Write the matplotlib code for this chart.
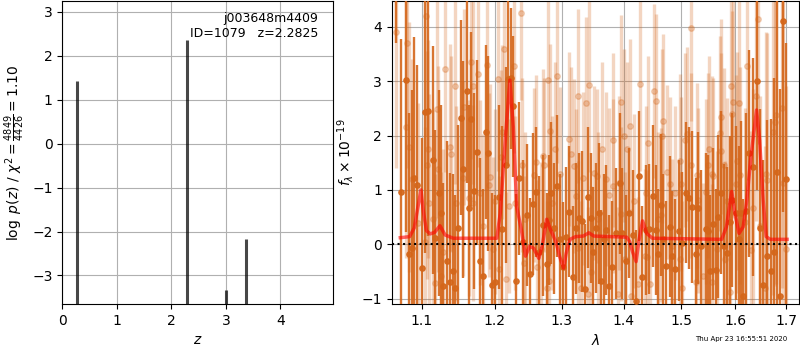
import numpy as np
import matplotlib
matplotlib.use('Agg')
import matplotlib.pyplot as plt
from matplotlib.ticker import ScalarFormatter, NullLocator, NullFormatter

# p(z) peaks
peak_z = [0.265, 2.28, 3.0, 3.375]
peak_logp = [1.42, 2.36, -3.33, -2.16]

# spectrum, darker set
dark_lam = [1.067, 1.0727, 1.0788, 1.0831, 1.087, 1.090, 1.093, 1.1004, 1.104, 1.108,
            1.115, 1.117, 1.123, 1.126, 1.128, 1.133, 1.137, 1.142, 1.145, 1.149,
            1.152, 1.156, 1.161, 1.164, 1.167, 1.171, 1.175, 1.179, 1.184, 1.188,
            1.190, 1.196, 1.201, 1.206, 1.211, 1.216, 1.219, 1.223, 1.227, 1.231,
            1.235, 1.241, 1.247, 1.252, 1.256, 1.260, 1.266, 1.271, 1.277, 1.280,
            1.284, 1.288, 1.293, 1.297, 1.302, 1.307, 1.312, 1.318, 1.322, 1.328,
            1.332, 1.336, 1.341, 1.346, 1.349, 1.354, 1.359, 1.363, 1.367, 1.371,
            1.376, 1.381, 1.387, 1.394, 1.398, 1.404, 1.409, 1.415, 1.421, 1.426,
            1.431, 1.438, 1.443, 1.450, 1.455, 1.459, 1.464, 1.468, 1.473, 1.479,
            1.484, 1.489, 1.496, 1.502, 1.509, 1.514, 1.520, 1.527, 1.530, 1.536,
            1.544, 1.548, 1.552, 1.557, 1.563, 1.568, 1.573, 1.579, 1.585, 1.589,
            1.594, 1.601, 1.606, 1.610, 1.615, 1.621, 1.627, 1.635, 1.642, 1.647,
            1.654, 1.662, 1.669, 1.676, 1.681, 1.688, 1.693, 1.700]
dark_flux = [5.6, 0.97, 3.02, -0.18, -0.07, 1.21, 1.09, -0.44, 2.43, 2.45,
             1.55, 0.11, 0.94, 0.57, -0.77, -0.30, -0.69, -0.50, -0.80, 0.29,
             2.33, 1.38, 2.82, 0.66, 2.31, 0.98, 1.69, -0.31, -0.58, 2.06,
             1.67, -0.75, -0.70, 0.87, 0.28, 1.46, 3.04, 3.05, 2.54, -0.67,
             1.21, 0.05, 0.54, -0.55, 0.74, 0.96, -0.14, 0.35, -0.36, 0.45,
             0.94, 0.29, 1.07, 0.10, -0.42, 0.13, 0.60, -0.60, 0.29, 0.48,
             0.42, -0.82, 0.86, 0.48, -0.14, 0.30, 0.57, -0.67, 0.10, 0.26,
             -0.77, -0.41, 0.20, 1.12, 0.20, -0.30, 0.57, 0.17, -1.04, 1.26,
             -0.60, 0.26, 0.28, 0.89, 0.26, -0.18, 0.72, 0.10, -0.40, 0.32,
             -0.22, -0.46, 0.25, 0.02, 0.95, 0.85, 0.68, -0.18, 0.66, -0.04,
             0.28, 0.25, -0.50, 0.37, -0.48, 0.51, 0.95, -0.03, -0.17, 0.40,
             0.81, 0.57, 0.10, 0.57, -0.96, 0.62, 1.67, 1.42, 3.00, 0.29,
             -0.75, -0.22, -0.50, -0.14, 1.33, -0.95, 4.10, 1.20]
dark_err = [1.9, 2.8, 2.8, 2.6, 2.9, 2.6, 2.2, 2.4, 2.6, 2.3,
            2.1, 2.0, 1.9, 2.0, 1.9, 2.2, 2.0, 1.8, 1.7, 1.9,
            1.8, 2.0, 1.7, 1.9, 1.6, 1.8, 1.7, 1.9, 1.6, 1.6,
            1.8, 1.7, 1.6, 1.7, 1.9, 1.8, 1.6, 1.3, 1.3, 1.6,
            1.4, 1.5, 1.3, 1.4, 1.3, 1.2, 1.4, 1.3, 1.3, 1.2,
            1.3, 1.2, 1.3, 1.2, 1.2, 1.3, 1.2, 1.3, 1.2, 1.2,
            1.3, 1.2, 1.3, 1.2, 1.2, 1.2, 1.3, 1.3, 1.2, 1.2,
            1.3, 1.2, 1.2, 1.3, 1.2, 1.2, 1.2, 1.2, 1.3, 1.2,
            1.3, 1.2, 1.2, 1.3, 1.2, 1.2, 1.3, 1.2, 1.2, 1.3,
            1.2, 1.3, 1.3, 1.3, 1.3, 1.3, 1.4, 1.4, 1.4, 1.4,
            1.4, 1.4, 1.4, 1.4, 1.5, 1.5, 1.5, 1.5, 1.6, 1.6,
            1.6, 1.6, 1.7, 1.7, 1.8, 1.8, 1.9, 2.0, 2.0, 2.2,
            2.3, 2.5, 2.8, 3.2, 3.5, 3.8, 3.5, 2.5]

# spectrum, lighter set
light_lam = [1.067, 1.079, 1.081, 1.083, 1.087, 1.095, 1.104, 1.106, 1.107, 1.108,
             1.110, 1.115, 1.117, 1.120, 1.122, 1.126, 1.128, 1.131, 1.137, 1.139,
             1.144, 1.146, 1.156, 1.157, 1.164, 1.167, 1.169, 1.170, 1.176, 1.179,
             1.184, 1.189, 1.192, 1.193, 1.198, 1.201, 1.205, 1.206, 1.209, 1.211,
             1.213, 1.216, 1.220, 1.228, 1.230, 1.238, 1.240, 1.243, 1.244, 1.257,
             1.261, 1.262, 1.268, 1.271, 1.273, 1.277, 1.279, 1.280, 1.282, 1.285,
             1.290, 1.293, 1.298, 1.312, 1.314, 1.320, 1.322, 1.325, 1.326, 1.331,
             1.334, 1.339, 1.341, 1.343, 1.346, 1.351, 1.356, 1.357, 1.365, 1.371,
             1.375, 1.382, 1.383, 1.391, 1.393, 1.395, 1.396, 1.401, 1.403, 1.406,
             1.411, 1.413, 1.418, 1.424, 1.427, 1.437, 1.438, 1.440, 1.442, 1.444,
             1.451, 1.455, 1.458, 1.464, 1.466, 1.467, 1.475, 1.479, 1.484, 1.489,
             1.497, 1.498, 1.500, 1.502, 1.507, 1.510, 1.517, 1.518, 1.527, 1.529,
             1.531, 1.539, 1.545, 1.548, 1.550, 1.555, 1.556, 1.557, 1.566, 1.570,
             1.572, 1.573, 1.579, 1.580, 1.584, 1.590, 1.591, 1.593, 1.595, 1.601,
             1.604, 1.606, 1.609, 1.618, 1.622, 1.631, 1.635, 1.640, 1.644, 1.648,
             1.657, 1.659, 1.662, 1.673, 1.677, 1.680, 1.691, 1.694, 1.700]
light_flux = [3.90, 2.15, 3.71, 1.79, 1.20, 0.39, 0.05, 4.20, 1.46, 1.75,
              0.76, 0.47, -0.71, 2.48, 1.38, -0.58, -0.15, 3.22, 1.78, 1.66,
              2.91, 0.75, 1.21, 2.52, 0.85, 3.36, 0.76, 2.91, 3.13, 0.95,
              0.33, 3.30, 1.09, 1.24, -0.09, 0.79, 3.04, -0.45, 1.60, 2.07,
              3.60, -0.64, 0.70, 3.28, 0.76, 4.26, 1.45, -0.35, 0.47, 1.27,
              1.52, -0.42, -0.08, 1.62, 1.46, -0.80, 3.02, -0.67, 2.08, 0.76,
              1.76, 3.09, 1.30, 1.94, 1.66, 1.44, 0.88, -0.07, 2.73, -0.80,
              1.21, 2.59, -0.92, 2.93, -0.52, 1.31, 1.25, 0.46, 1.75, 1.20,
              0.90, 1.07, 1.92, -0.91, 1.13, 2.61, 0.56, 2.00, -0.27, 1.75,
              2.18, -0.96, 0.79, -0.73, 2.95, -0.21, 0.94, -0.24, 1.87, -0.73,
              2.82, 2.64, 0.47, 0.54, 1.99, 2.27, 1.33, 1.10, -0.04, 0.95,
              1.53, -0.27, 1.10, -0.80, 1.92, 2.02, 3.97, 1.45, -0.70, 1.27,
              0.81, -0.58, 0.97, 1.45, 1.76, 1.30, -0.70, 1.25, -0.09, 2.04,
              2.35, 1.72, 1.45, -0.27, 0.79, -0.87, 2.91, 2.39, 2.62, 1.11,
              1.53, 2.60, 1.27, 0.40, 3.28, -0.11, 0.66, 2.73, 4.14, 0.33,
              -0.80, 1.30, 1.19, 2.07, 2.24, 2.37, 2.50, 1.13, -0.08]
light_err = [2.5, 2.4, 2.3, 2.3, 2.2, 2.2, 2.1, 2.2, 2.1, 2.0,
             2.0, 2.0, 2.0, 2.0, 1.9, 1.9, 1.9, 1.9, 1.9, 1.8,
             1.8, 1.8, 1.8, 1.8, 1.8, 1.8, 1.8, 1.8, 1.7, 1.7,
             1.7, 1.7, 1.7, 1.7, 1.7, 1.7, 1.7, 1.7, 1.6, 1.6,
             1.6, 1.6, 1.6, 1.6, 1.6, 1.6, 1.6, 1.6, 1.6, 1.6,
             1.6, 1.6, 1.6, 1.6, 1.6, 1.6, 1.6, 1.6, 1.6, 1.6,
             1.6, 1.6, 1.6, 1.6, 1.6, 1.6, 1.6, 1.6, 1.6, 1.6,
             1.6, 1.6, 1.6, 1.6, 1.6, 1.6, 1.6, 1.6, 1.6, 1.6,
             1.6, 1.6, 1.6, 1.6, 1.6, 1.6, 1.6, 1.6, 1.6, 1.6,
             1.6, 1.6, 1.6, 1.6, 1.6, 1.6, 1.6, 1.6, 1.6, 1.6,
             1.6, 1.6, 1.6, 1.6, 1.6, 1.6, 1.6, 1.6, 1.6, 1.6,
             1.6, 1.6, 1.6, 1.6, 1.6, 1.6, 1.7, 1.7, 1.7, 1.7,
             1.7, 1.7, 1.7, 1.7, 1.7, 1.8, 1.8, 1.8, 1.8, 1.8,
             1.8, 1.8, 1.8, 1.8, 1.9, 1.9, 1.9, 1.9, 1.9, 2.0,
             2.0, 2.0, 2.0, 2.1, 2.1, 2.2, 2.2, 2.3, 2.3, 2.4,
             2.6, 2.6, 2.7, 3.0, 3.0, 3.1, 3.3, 3.4, 3.0]

# best-fit model
model_lam = [1.072, 1.084, 1.090, 1.095, 1.0988, 1.102, 1.106, 1.111, 1.117, 1.124,
             1.131, 1.142, 1.203, 1.208, 1.216, 1.222, 1.227, 1.232, 1.239, 1.245,
             1.251, 1.257, 1.265, 1.270, 1.277, 1.283, 1.291, 1.297, 1.303, 1.307,
             1.313, 1.322, 1.334, 1.343, 1.351, 1.405, 1.410, 1.415, 1.421, 1.426,
             1.432, 1.439, 1.449, 1.574, 1.583, 1.593, 1.599, 1.607, 1.615, 1.622,
             1.630, 1.641, 1.647, 1.654, 1.660, 1.668, 1.702]
model_flux = [0.12, 0.14, 0.30, 0.70, 1.00, 0.60, 0.25, 0.19, 0.22, 0.34,
              0.17, 0.11, 0.11, 0.57, 2.04, 3.02, 2.16, 0.69, 0.26, -0.22,
              -0.04, -0.07, -0.26, -0.04, 0.46, 0.26, 0.05, -0.23, -0.44, -0.17,
              0.09, 0.14, 0.15, 0.21, 0.15, 0.13, 0.05, -0.14, -0.32, 0.08,
              0.43, 0.20, 0.11, 0.09, 0.32, 0.97, 0.57, 0.20, 0.32, 0.81,
              1.61, 2.47, 1.92, 0.81, 0.14, 0.09, 0.09]

orange = '#d4661a'

fig = plt.figure(figsize=(8, 3.5), dpi=100)

# left: p(z)
ax1 = fig.add_axes([0.0779, 0.1314, 0.3388, 0.8649])
ymin1 = -3.65
ax1.vlines(peak_z, ymin1, peak_logp, color='k', alpha=0.72, lw=2.2)
ax1.set_xlim(0, 4.97)
ax1.set_ylim(ymin1, 3.24)
ax1.set_xticks([0, 1, 2, 3, 4])
ax1.set_yticks([-3, -2, -1, 0, 1, 2, 3])
ax1.grid(True)
ax1.set_axisbelow(True)
ax1.set_xlabel(r'$z$')
ax1.set_ylabel(r'$\log\ p(z)$ / $\chi^2=\frac{4849}{4426}=1.10$')
ax1.text(0.945, 0.966, 'j003648m4409\nID=1079   z=2.2825', transform=ax1.transAxes,
         ha='right', va='top', multialignment='right', fontsize=9)

# right: spectrum
ax2 = fig.add_axes([0.4896, 0.1314, 0.5095, 0.8649])
ax2.errorbar(light_lam, light_flux, yerr=light_err, marker='o', ms=4, linestyle='none',
             color=orange, alpha=0.27, elinewidth=2.4, capsize=0, zorder=2)
ax2.errorbar(dark_lam, dark_flux, yerr=dark_err, marker='o', ms=3.8, linestyle='none',
             color=orange, alpha=0.9, elinewidth=1.7, capsize=0, zorder=3)
ax2.plot(model_lam, model_flux, color='r', alpha=0.6, lw=2.5, zorder=4)
ax2.axhline(0, color='k', linestyle=':', lw=1.5, zorder=5)

ax2.set_xscale('log')
ax2.set_xlim(1.061, 1.727)
ax2.set_ylim(-1.1, 4.47)
ax2.set_xticks([1.1, 1.2, 1.3, 1.4, 1.5, 1.6, 1.7])
ax2.xaxis.set_major_formatter(ScalarFormatter())
ax2.xaxis.set_minor_locator(NullLocator())
ax2.xaxis.set_minor_formatter(NullFormatter())
ax2.set_yticks([-1, 0, 1, 2, 3, 4])
ax2.grid(True)
for gl in ax2.get_xgridlines() + ax2.get_ygridlines():
    gl.set_zorder(6)
ax2.set_xlabel(r'$\lambda$')
ax2.set_ylabel(r'$f_\lambda\times10^{-19}$')

fig.text(0.984, 0.022, 'Thu Apr 23 16:55:51 2020', ha='right', va='bottom', fontsize=5)

fig.savefig('out.png', dpi=100)
